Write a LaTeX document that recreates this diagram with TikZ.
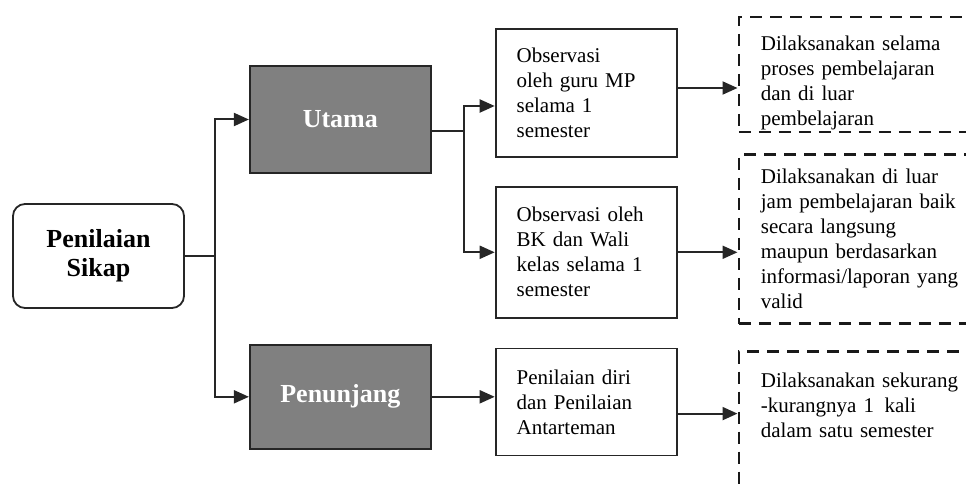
\documentclass[tikz,border=0pt]{standalone}
\usepackage{fontspec}
\setmainfont{Liberation Serif}
\usetikzlibrary{arrows.meta, positioning}
\definecolor{blokgray}{RGB}{128,128,128}

\begin{document}
\begin{tikzpicture}[
  font=\fontsize{10.5}{12.5}\selectfont,
  judul/.style={draw=black!85, line width=0.9pt, align=center, font=\fontsize{13}{14.5}\selectfont\bfseries},
  blok/.style={judul, fill=blokgray, text=white, minimum width=90.5pt},
  kotak/.style={draw=black!85, line width=0.9pt, align=left, text width=69.5pt, inner xsep=10.5pt},
  ket/.style={draw=black!90, line width=1.4pt, dash pattern=on 6pt off 4pt, align=left, text width=110pt, inner xsep=11pt, anchor=west},
  ln/.style={draw=black!85, line width=1pt},
  ar/.style={ln, -{Triangle[length=7.5pt, width=6.5pt]}}]

% --- page frame (the dashed notes run off the right and bottom edge)
\path[use as bounding box, clip] (0,0) rectangle (483pt,-243pt);

% --- left: root and the two kinds of assessment
\node[judul, rounded corners=6pt, minimum width=85.5pt, minimum height=52pt] (sikap) at (49.25pt,-128pt) {Penilaian\\Sikap};
\node[blok, minimum height=53.5pt, right=32pt of sikap, yshift=68.25pt] (utama) {Utama};
\node[blok, minimum height=52pt, below=85pt of utama] (penunjang) {Penunjang};

% --- middle: how each one is carried out
\node[kotak, minimum height=64pt, right=31.5pt of utama, yshift=13.25pt] (obs1) {Observasi\\oleh guru MP\\selama 1\\semester};
\node[kotak, minimum height=65.5pt, below=14pt of obs1] (obs2) {Observasi oleh\\BK dan Wali\\kelas selama 1\\semester};
\node[kotak, minimum height=53.5pt, below=14.5pt of obs2] (diri) {Penilaian diri\\dan Penilaian\\Antarteman};

% --- right: dashed notes
\node[ket, inner ysep=0pt, minimum height=57.5pt, right=30pt of obs1, yshift=9.25pt] (ket1) {\rule{0pt}{15.5pt}Dilaksanakan selama\\proses pembelajaran\\dan di luar\\pembelajaran};
\node[ket, minimum height=84.5pt, right=30pt of obs2, yshift=6.5pt] (ket2) {Dilaksanakan di luar\\jam pembelajaran baik\\secara langsung\\maupun berdasarkan\\informasi/laporan yang\\valid};
\node[ket, right=30pt of diri, yshift=-17.75pt, minimum height=86pt] (ket3) {Dilaksanakan sekurang\\-kurangnya 1\, kali\\dalam satu semester\\[20pt]\mbox{}};

% --- connectors
\draw[ln] (sikap.east) -- ++(15pt,0) coordinate (cabang);
\draw[ar] (cabang) |- (utama.west);
\draw[ar] (cabang) |- (penunjang.west);
\draw[ln] ([yshift=-5.75pt]utama.east) -- ++(16pt,0) coordinate (cabang2);
\draw[ar] (cabang2) |- ([yshift=-6.5pt]obs1.west);
\draw[ar] (cabang2) |- (obs2.west);
\draw[ar] (penunjang.east) -- (penunjang.east -| diri.west);
\draw[ar] ([yshift=2.5pt]obs1.east) -- ([yshift=2.5pt]obs1.east -| ket1.west);
\draw[ar] (obs2.east) -- (obs2.east -| ket2.west);
\draw[ar] ([yshift=-5.75pt]diri.east) -- ([yshift=-5.75pt]diri.east -| ket3.west);
\end{tikzpicture}
\end{document}
